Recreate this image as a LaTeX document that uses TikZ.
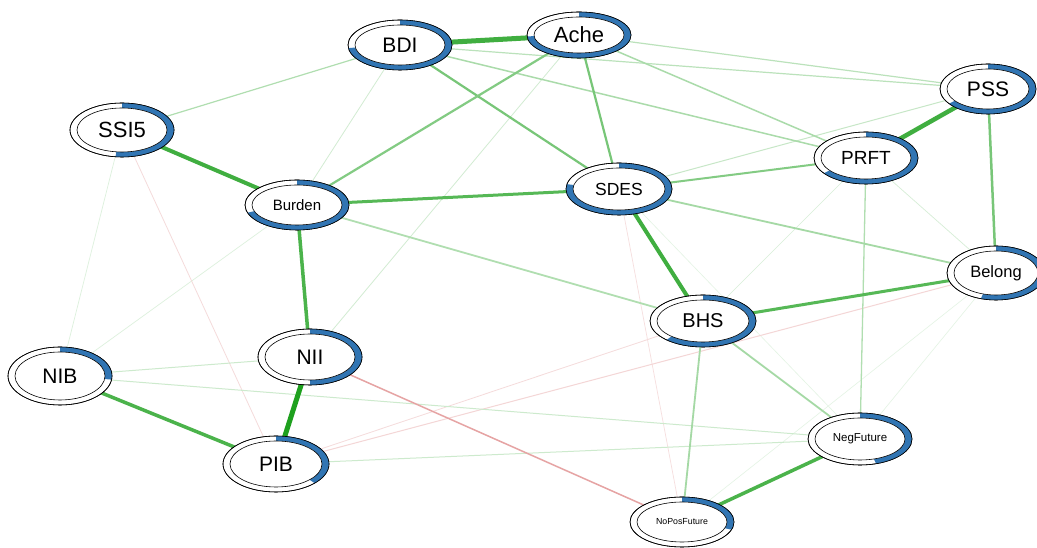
\documentclass[tikz,border=0pt]{standalone}
\usepackage{fontspec}
\setmainfont{Liberation Sans}
\usetikzlibrary{calc}
\definecolor{pos}{RGB}{30,160,30}
\definecolor{neg}{RGB}{210,90,90}
\definecolor{pieblue}{RGB}{49,117,179}

% pie node: #1 name, #2 x radius, #3 y radius, #4 filled fraction, #5 font size, #6 label
\newcommand{\pienode}[6]{%
  \pgfmathsetmacro{\rxi}{#2-7}%
  \pgfmathsetmacro{\ryi}{#3-5}%
  \pgfmathsetmacro{\aend}{90-360*#4}%
  \filldraw[fill=white,draw=black,line width=0.6pt] (#1) ellipse[x radius=#2pt, y radius=#3pt];
  \fill[pieblue] ([shift={(90:#2pt and #3pt)}]#1)
     arc[start angle=90, end angle=\aend, x radius=#2pt, y radius=#3pt]
     -- ([shift={(\aend:\rxi pt and \ryi pt)}]#1)
     arc[start angle=\aend, end angle=90, x radius=\rxi pt, y radius=\ryi pt] -- cycle;
  \draw[black,line width=0.6pt] (#1) ellipse[x radius=#2pt, y radius=#3pt];
  \filldraw[fill=white,draw=black,line width=0.6pt] (#1) ellipse[x radius=\rxi pt, y radius=\ryi pt];
  \node[inner sep=0pt,font=\fontsize{#5}{#5}\selectfont] (#1-lab) at (#1) {#6};
}

\tikzset{
  ep/.style n args={2}{draw=pos!#2!white, line width=#1pt},
  en/.style n args={2}{draw=neg!#2!white, line width=#1pt},
}

\begin{document}
\begin{tikzpicture}[x=1pt,y=1pt]
\fill[white] (0,0) rectangle (1037,548);
\useasboundingbox (0,0) rectangle (1037,548);

% node centres
\coordinate (BDI) at (400,503);
\coordinate (Ache) at (579,513);
\coordinate (SSI5) at (122,418);
\coordinate (Burden) at (297,343);
\coordinate (SDES) at (619,359);
\coordinate (PRFT) at (866,390);
\coordinate (PSS) at (988,459);
\coordinate (Belong) at (996,275);
\coordinate (BHS) at (703,227);
\coordinate (NIB) at (60,172);
\coordinate (NII) at (310,191);
\coordinate (PIB) at (276,84);
\coordinate (NegFuture) at (860,109);
\coordinate (NoPosFuture) at (682,26);

% faint edges
\draw[ep={0.6}{12}] (Belong) -- (NegFuture);
\draw[ep={0.6}{12}] (Belong) -- (NoPosFuture);
\draw[ep={0.6}{12}] (SDES) -- (NegFuture);
\draw[ep={0.7}{15}] (NIB) -- (SSI5);
\draw[ep={0.7}{15}] (NIB) -- (Burden);
\draw[ep={0.7}{18}] (PRFT) -- (BHS);
\draw[ep={0.7}{18}] (PRFT) -- (Belong);
\draw[ep={0.8}{20}] (Ache) -- (NII);
\draw[ep={0.8}{20}] (Burden) -- (BDI);
\draw[en={0.7}{20}] (SDES) -- (NoPosFuture);
\draw[en={0.8}{22}] (SSI5) -- (PIB);
\draw[en={0.8}{22}] (PIB) -- (BHS);
\draw[en={1}{25}] (PIB) -- (Belong);
\draw[ep={1}{22}] (NIB) -- (NII);
\draw[ep={1}{22}] (NIB) -- (NegFuture);
\draw[ep={1}{22}] (PIB) -- (NegFuture);
\draw[ep={1}{25}] (SDES) -- (PSS);
% light edges
\draw[ep={1.2}{35}] (BDI) -- (SSI5);
\draw[ep={1.2}{30}] (Ache) -- (PSS);
\draw[ep={1.2}{30}] (BDI) -- (PSS);
\draw[ep={1.5}{38}] (BDI) -- (PRFT);
\draw[ep={1.5}{38}] (Ache) -- (PRFT);
\draw[ep={1.3}{35}] (PRFT) -- (NegFuture);
\draw[ep={1.8}{40}] (SDES) -- (Belong);
\draw[ep={1.8}{35}] (Burden) -- (BHS);
\draw[ep={1.8}{40}] (BHS) -- (NoPosFuture);
\draw[ep={1.8}{40}] (BHS) -- (NegFuture);
\draw[en={1.5}{55}] (NII) -- (NoPosFuture);
% medium edges
\draw[ep={2}{55}] (SDES) -- (PRFT);
\draw[ep={2.2}{60}] (Ache) -- (SDES);
\draw[ep={2.2}{60}] (BDI) -- (SDES);
\draw[ep={2.2}{55}] (Ache) -- (Burden);
\draw[ep={2.5}{60}] (PSS) -- (Belong);
\draw[ep={3}{75}] (Burden) -- (SDES);
\draw[ep={3}{75}] (BHS) -- (Belong);
% strong edges
\draw[ep={3.5}{80}] (Burden) -- (NII);
\draw[ep={3.5}{80}] (NIB) -- (PIB);
\draw[ep={3.5}{80}] (NegFuture) -- (NoPosFuture);
\draw[ep={4}{85}] (SSI5) -- (Burden);
\draw[ep={4}{85}] (SDES) -- (BHS);
\draw[ep={4.5}{85}] (PSS) -- (PRFT);
\draw[ep={5}{85}] (BDI) -- (Ache);
\draw[ep={5}{100}] (NII) -- (PIB);

% nodes
\pienode{BDI}{52}{25}{0.73}{21}{BDI}
\pienode{Ache}{52}{23}{0.74}{22}{Ache}
\pienode{SSI5}{52}{27}{0.52}{22}{SSI5}
\pienode{Burden}{52}{25}{0.70}{15}{Burden}
\pienode{SDES}{53}{26}{0.78}{17.5}{SDES}
\pienode{PRFT}{52}{26}{0.65}{19}{PRFT}
\pienode{PSS}{48}{25}{0.65}{21}{PSS}
\pienode{Belong}{49}{27}{0.55}{16.5}{Belong}
\pienode{BHS}{53}{26}{0.62}{20}{BHS}
\pienode{NIB}{52}{29}{0.27}{21}{NIB}
\pienode{NII}{52}{28}{0.50}{21}{NII}
\pienode{PIB}{53}{28}{0.37}{21}{PIB}
\pienode{NegFuture}{52}{26}{0.45}{11.5}{NegFuture}
\pienode{NoPosFuture}{52}{25}{0.30}{8.8}{NoPosFuture}
\end{tikzpicture}
\end{document}
